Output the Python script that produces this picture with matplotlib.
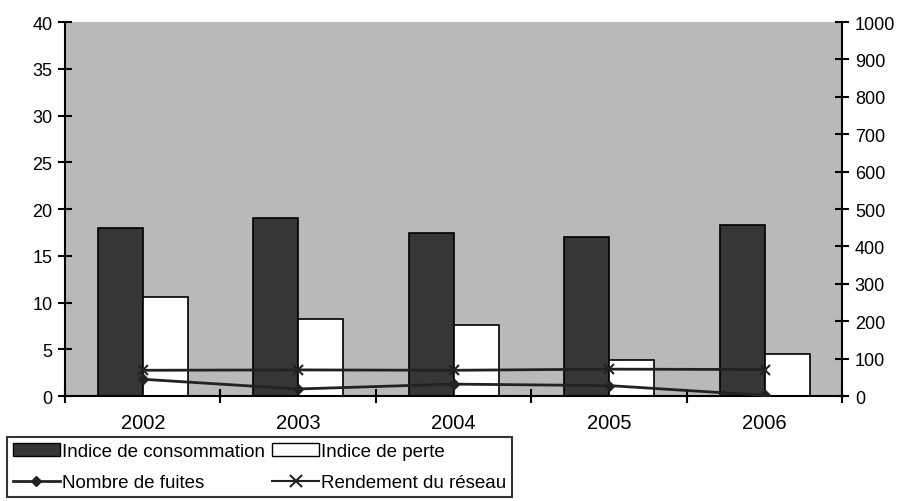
import numpy as np
import matplotlib
matplotlib.use('Agg')
import matplotlib.pyplot as plt
from matplotlib.lines import Line2D
from matplotlib.patches import Patch

years = ['2002', '2003', '2004', '2005', '2006']
indice_consommation = [18.0, 19.0, 17.4, 17.0, 18.3]
indice_perte = [10.6, 8.2, 7.6, 3.9, 4.5]
nombre_fuites = [45, 19, 32, 28, 2]
rendement_reseau = [69, 70, 69, 72, 71]

plt.rcParams['font.family'] = ['Liberation Sans', 'DejaVu Sans']

fig = plt.figure(figsize=(9.07, 5.02), dpi=100)
ax = fig.add_axes([0.0717, 0.209, 0.857, 0.745])
ax.set_facecolor('#b9b9b9')

x = np.arange(len(years))
w = 0.29
ax.bar(x - w / 2, indice_consommation, w, color='#363636', edgecolor='black', linewidth=1.2, zorder=2)
ax.bar(x + w / 2, indice_perte, w, color='white', edgecolor='black', linewidth=1.2, zorder=2)

ax.set_xlim(-0.5, len(years) - 0.5)
ax.set_ylim(0, 40)
ax.set_yticks(range(0, 41, 5))
# category boundaries get the tick marks, centres get the labels
ax.set_xticks(np.arange(-0.5, len(years), 1.0))
ax.set_xticklabels([])
ax.set_xticks(x, minor=True)
ax.set_xticklabels(years, minor=True)
ax.tick_params(axis='x', which='minor', length=0, pad=12, labelsize=14.5)
ax.tick_params(axis='x', which='major', direction='inout', length=10, width=1.5)
ax.tick_params(axis='y', direction='inout', length=10, width=1.5, pad=4, labelsize=13)
for s in ['top', 'right']:
    ax.spines[s].set_visible(False)
for s in ['left', 'bottom']:
    ax.spines[s].set_linewidth(1.5)

ax2 = ax.twinx()
ax2.set_ylim(0, 1000)
ax2.set_yticks(range(0, 1001, 100))
ax2.plot(x, rendement_reseau, color='#222222', linewidth=2, marker='x', markersize=7,
         markeredgewidth=1.5, zorder=3)
ax2.plot(x, nombre_fuites, color='#222222', linewidth=2, marker='D', markersize=5, zorder=3)
ax2.tick_params(axis='y', direction='inout', length=10, width=1.5, labelsize=13, pad=4)
for s in ['top', 'left', 'bottom']:
    ax2.spines[s].set_visible(False)
ax2.spines['right'].set_linewidth(1.5)

handles = [
    Patch(facecolor='#363636', edgecolor='black'),
    Line2D([], [], color='#222222', linewidth=2, marker='D', markersize=5),
    Patch(facecolor='white', edgecolor='black'),
    Line2D([], [], color='#222222', linewidth=1.5, marker='x', markersize=8, markeredgewidth=1.5),
]
labels = ['Indice de consommation', 'Nombre de fuites', 'Indice de perte', 'Rendement du réseau']
leg = fig.legend(handles, labels, ncol=2, loc='lower left', bbox_to_anchor=(0.008, 0.008),
                 fontsize=13.5, frameon=True, fancybox=False, edgecolor='black',
                 handlelength=2.5, handletextpad=0.1, columnspacing=0.4, borderpad=0.3,
                 labelspacing=0.75, borderaxespad=0)
leg.get_frame().set_linewidth(1.5)

fig.savefig('out.png', dpi=100, facecolor='white')
